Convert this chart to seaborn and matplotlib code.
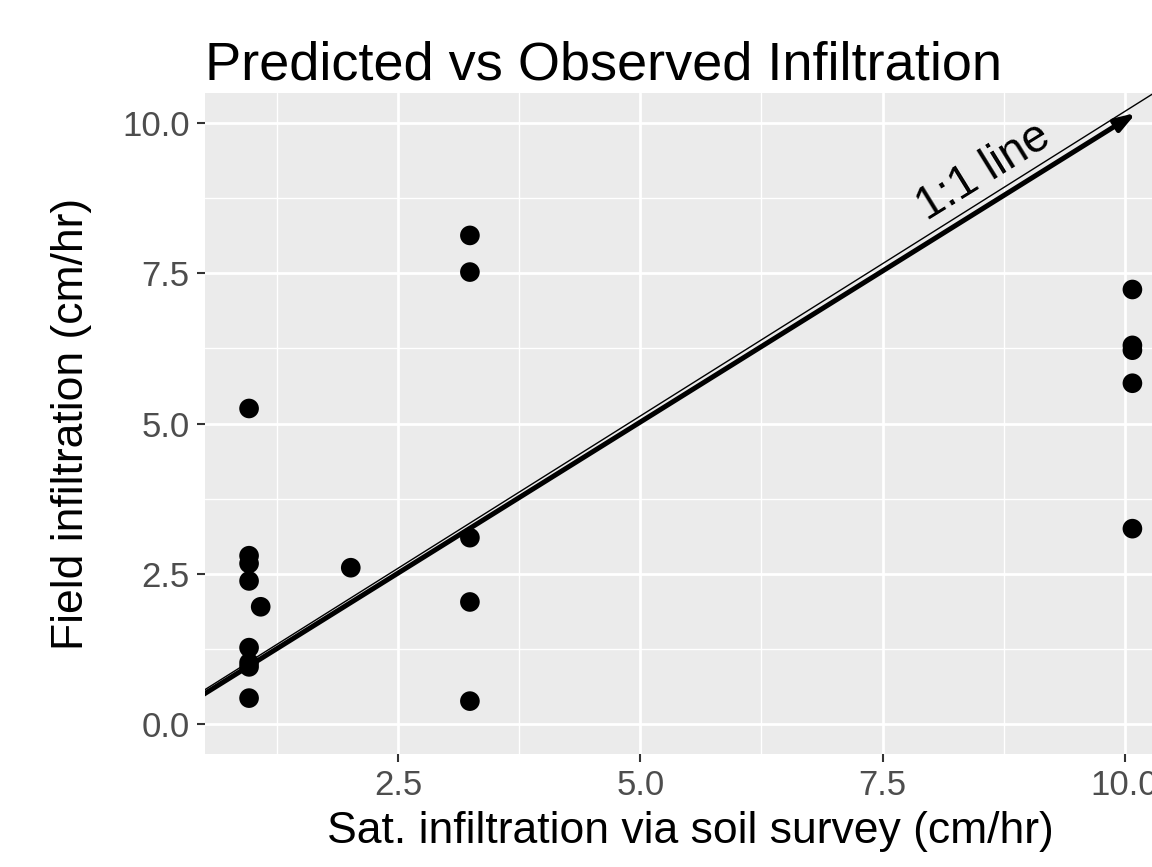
"""Predicted vs observed infiltration, ggplot-like look."""

import numpy as np
import pandas as pd
import matplotlib
matplotlib.use("Agg")
import matplotlib.pyplot as plt
from matplotlib.patches import FancyArrowPatch
from matplotlib.ticker import AutoMinorLocator
import seaborn as sns

# Data
sat_infiltration = [0.96, 0.96, 0.96, 0.96, 0.96, 0.96, 0.96, 0.96,
                    1.08, 2.01,
                    3.24, 3.24, 3.24, 3.24, 3.24,
                    10.08, 10.08, 10.08, 10.08, 10.08]
field_infiltration = [5.25, 2.80, 2.67, 2.38, 1.27, 1.02, 0.95, 0.43,
                      1.95, 2.60,
                      8.13, 7.52, 3.10, 2.03, 0.38,
                      7.23, 6.30, 6.22, 5.67, 3.25]

# 1:1 reference line (thick arrow) and thin companion line
one_to_one_x = [0.0, 10.12]
one_to_one_y = [0.0, 10.17]
thin_line_x = [0.0, 10.6]
thin_line_y = [0.06, 10.8]

x_ticks = [2.5, 5.0, 7.5, 10.0]
y_ticks = [0.0, 2.5, 5.0, 7.5, 10.0]

df = pd.DataFrame({"sat": sat_infiltration, "field": field_infiltration})

sns.set_theme(style="darkgrid")
plt.rcParams["font.family"] = ["Liberation Sans", "DejaVu Sans"]

fig = plt.figure(figsize=(11.52, 8.67), dpi=100)
ax = fig.add_axes([205 / 1152, 1 - 754 / 867, (1176 - 205) / 1152, (754 - 93) / 867])
ax.set_facecolor("#EBEBEB")

# Reference lines (clipped to the panel)
ax.plot(thin_line_x, thin_line_y, color="black", lw=1.0, zorder=2)
arrow = FancyArrowPatch((one_to_one_x[0], one_to_one_y[0]),
                        (one_to_one_x[1], one_to_one_y[1]),
                        arrowstyle="-|>,head_length=0.6,head_width=0.2",
                        mutation_scale=20, color="black", lw=3.6,
                        shrinkA=0, shrinkB=0, zorder=2)
ax.add_patch(arrow)

sns.scatterplot(data=df, x="sat", y="field", s=200, color="black",
                edgecolor="none", linewidth=0, ax=ax, zorder=3)

ax.text(8.54, 9.18, "1:1 line", rotation=31.7, rotation_mode="anchor",
        ha="center", va="center", fontsize=33, color="black")

ax.set_xlim(0.505, 10.53)
ax.set_ylim(-0.5, 10.5)
ax.set_xticks(x_ticks)
ax.set_yticks(y_ticks)
ax.set_xticklabels([f"{t:.1f}" for t in x_ticks])
ax.set_yticklabels([f"{t:.1f}" for t in y_ticks])
ax.xaxis.set_minor_locator(AutoMinorLocator(2))
ax.yaxis.set_minor_locator(AutoMinorLocator(2))

ax.grid(which="major", color="white", lw=2.0)
ax.grid(which="minor", color="white", lw=1.0)
ax.set_axisbelow(True)
for spine in ax.spines.values():
    spine.set_visible(False)

ax.tick_params(axis="both", which="major", direction="out", length=6,
               width=1.5, color="#333333", labelsize=25, labelcolor="#4D4D4D",
               pad=5, bottom=True, left=True)
ax.tick_params(axis="both", which="minor", length=0)

ax.set_xlabel("Sat. infiltration via soil survey (cm/hr)", fontsize=32,
              color="black", labelpad=6)
ax.set_ylabel("Field infiltration (cm/hr)", fontsize=32, color="black",
              labelpad=22)
ax.set_title("Predicted vs Observed Infiltration", loc="left", fontsize=39,
             color="black", pad=10)

fig.savefig("out.png", dpi=100)
